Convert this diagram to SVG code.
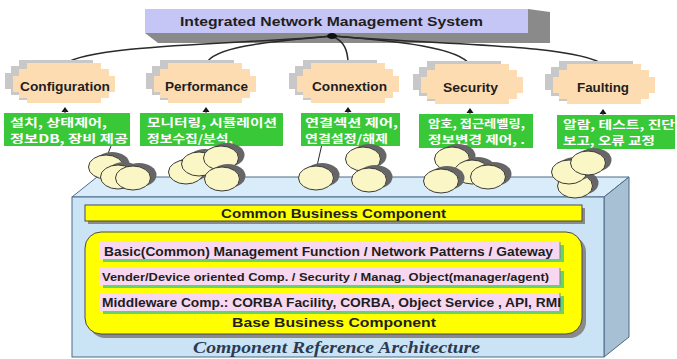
<svg xmlns="http://www.w3.org/2000/svg" width="677" height="359" viewBox="0 0 677 359">
  <defs>
    <style>
      .lbl { font-family: "Liberation Sans", Arial, sans-serif; font-weight: bold; fill: #1e1e1e; }
      .kr { font-family: "Noto Sans CJK KR", "Liberation Sans", sans-serif; font-weight: bold; font-size: 11px; fill: #ffffff; }
      .green { fill: #38c838; }
      .peach { fill: #fddcb2; }
      .ghost { fill: #c8c8c8; }
      .coin { fill: #fbf6c6; stroke: #3a3a3a; stroke-width: 1; }
      .coinshadow { fill: #666666; }
      .wire { fill: none; stroke: #2a2a2a; stroke-width: 1.5; }
      .thin { fill: none; stroke: #2a2a2a; stroke-width: 1; }
      .yellow { fill: #ffff00; stroke: #4a4a4a; stroke-width: 1; }
      .pink { fill: #f8d8f0; }
      .gshadow { fill: #66d466; }
      .gray { fill: #8a8a8a; }
    </style>
    <!-- stepped component outline, centred on 0,0 -->
    <polygon id="step" points="-38,-20 36,-20 36,-14 44,-14 44,-7 50,-7 50,9 44,9 44,15 36,15 36,20 -38,20 -38,15 -46,15 -46,9 -52,9 -52,-7 -46,-7 -46,-14 -38,-14"/>
    <polygon id="uparrow" points="0,-5 -3.5,0 3.5,0" fill="#111"/>
    <g id="coinpair">
      <ellipse class="coinshadow" cx="6" cy="-3" rx="17.5" ry="12"/>
      <ellipse class="coin" cx="0" cy="0" rx="17.5" ry="12"/>
    </g>
  </defs>

  <rect width="677" height="359" fill="#ffffff"/>

  <!-- top system box -->
  <g id="system">
    <polygon class="gray" points="145,33 158,43 550,43 550,12 528,9 528,33"/>
    <rect x="145" y="9" width="383" height="24" fill="#c6c6f6"/>
    <text class="lbl" x="180" y="26" font-size="13" textLength="303" lengthAdjust="spacingAndGlyphs">Integrated Network Management System</text>
  </g>

  <!-- wires from the system hub to the functional areas -->
  <g id="connectors">
    <path class="wire" d="M332,36 C250,44 90,44 65,64"/>
    <path class="wire" d="M332,36 C280,41 214,45 206,64"/>
    <path class="wire" d="M332,36 C344,41 348,50 348,64"/>
    <path class="wire" d="M332,36 C400,41 460,48 470,65"/>
    <path class="wire" d="M332,36 C420,44 580,44 603,65"/>
    <ellipse cx="332" cy="36" rx="5" ry="3" fill="#111"/>
    <!-- short leads from the descriptions down to the component piles -->
    <path class="thin" d="M111,146 L107,156"/>
    <path class="thin" d="M322,144 L317,166"/>
    <use href="#uparrow" x="65" y="112"/>
    <use href="#uparrow" x="206" y="112"/>
    <use href="#uparrow" x="348" y="112"/>
    <use href="#uparrow" x="470" y="113"/>
    <use href="#uparrow" x="603" y="114"/>
    <path class="thin" d="M65,110 V113 M206,110 V113 M348,110 V113 M470,111 V114 M603,112 V115"/>
  </g>

  <!-- functional areas -->
  <g id="configuration">
    <use href="#step" class="ghost" x="57" y="80"/>
    <use href="#step" class="peach" x="65" y="83"/>
    <text class="lbl" x="20" y="91" font-size="13" textLength="90" lengthAdjust="spacingAndGlyphs">Configuration</text>
    <rect class="green" x="4" y="113" width="126" height="33"/>
    <text class="kr"><tspan x="10" y="126.5" textLength="97" lengthAdjust="spacingAndGlyphs">설치, 상태제어,</tspan><tspan x="10" y="142.5" textLength="118" lengthAdjust="spacingAndGlyphs">정보DB, 장비 제공</tspan></text>
  </g>
  <g id="performance">
    <use href="#step" class="ghost" x="198" y="80"/>
    <use href="#step" class="peach" x="206" y="83"/>
    <text class="lbl" x="165" y="91" font-size="13" textLength="83" lengthAdjust="spacingAndGlyphs">Performance</text>
    <rect class="green" x="140" y="113" width="143" height="33"/>
    <text class="kr"><tspan x="147" y="126.5" textLength="130" lengthAdjust="spacingAndGlyphs">모니터링, 시뮬레이션</tspan><tspan x="147" y="142.5" textLength="86" lengthAdjust="spacingAndGlyphs">정보수집/분석,</tspan></text>
  </g>
  <g id="connextion">
    <use href="#step" class="ghost" x="341" y="80"/>
    <use href="#step" class="peach" x="349" y="83"/>
    <text class="lbl" x="312" y="91" font-size="13" textLength="75" lengthAdjust="spacingAndGlyphs">Connextion</text>
    <rect class="green" x="301" y="113" width="99" height="33"/>
    <text class="kr"><tspan x="305" y="126.5" textLength="93" lengthAdjust="spacingAndGlyphs">연결섹션 제어,</tspan><tspan x="305" y="142.5" textLength="83" lengthAdjust="spacingAndGlyphs">연결설정/해제</tspan></text>
  </g>
  <g id="security">
    <use href="#step" class="ghost" x="465" y="81"/>
    <use href="#step" class="peach" x="473" y="84"/>
    <text class="lbl" x="443" y="92" font-size="13" textLength="55" lengthAdjust="spacingAndGlyphs">Security</text>
    <rect class="green" x="419" y="114" width="114" height="34"/>
    <text class="kr"><tspan x="428" y="127.5" textLength="97" lengthAdjust="spacingAndGlyphs">암호, 접근레벨링,</tspan><tspan x="428" y="143.5" textLength="97" lengthAdjust="spacingAndGlyphs">정보변경 제어, .</tspan></text>
  </g>
  <g id="faulting">
    <use href="#step" class="ghost" x="597" y="81"/>
    <use href="#step" class="peach" x="605" y="84"/>
    <text class="lbl" x="577" y="92" font-size="13" textLength="52" lengthAdjust="spacingAndGlyphs">Faulting</text>
    <rect class="green" x="557" y="115" width="118" height="34"/>
    <text class="kr"><tspan x="563" y="128.5" textLength="112" lengthAdjust="spacingAndGlyphs">알람, 테스트, 진단</tspan><tspan x="563" y="144.5" textLength="92" lengthAdjust="spacingAndGlyphs">보고, 오류 교정</tspan></text>
  </g>

  <!-- reference architecture block -->
  <g id="architecture">
    <polygon points="72,197 97,177 629,177 604,197" fill="#d8ecfa" stroke="#4d6a88" stroke-width="1"/>
    <polygon points="604,197 629,177 629,337 604,357" fill="#a7c0d4" stroke="#4d6a88" stroke-width="1"/>
    <rect x="72" y="197" width="532" height="160" fill="#cae4f6" stroke="#4d6a88" stroke-width="1"/>
    <text x="193" y="353" font-family="'Liberation Serif', 'Times New Roman', serif" font-style="italic" font-weight="bold" font-size="17.5" fill="#2c3a52" textLength="287" lengthAdjust="spacingAndGlyphs">Component Reference Architecture</text>
  </g>

  <!-- component piles on top of the block -->
  <g id="piles">
    <use href="#coinpair" x="106" y="167"/>
    <use href="#coinpair" x="118" y="177"/>
    <use href="#coinpair" x="133" y="178"/>

    <use href="#coinpair" x="186" y="172"/>
    <use href="#coinpair" x="199" y="164"/>
    <use href="#coinpair" x="221" y="158"/>
    <use href="#coinpair" x="222" y="179"/>

    <use href="#coinpair" x="316" y="178"/>
    <use href="#coinpair" x="363" y="159"/>
    <use href="#coinpair" x="369" y="180"/>

    <use href="#coinpair" x="452" y="159"/>
    <use href="#coinpair" x="472" y="172"/>
    <use href="#coinpair" x="441" y="181"/>
    <use href="#coinpair" x="488" y="177"/>

    <use href="#coinpair" x="575" y="186"/>
    <use href="#coinpair" x="569" y="172"/>
    <use href="#coinpair" x="588" y="163"/>
  </g>

  <g id="common-business">
    <rect class="gray" x="88" y="208" width="497" height="16"/>
    <rect class="yellow" x="85" y="205" width="497" height="16"/>
    <text class="lbl" x="221" y="218" font-size="13" textLength="225" lengthAdjust="spacingAndGlyphs">Common Business Component</text>
  </g>

  <g id="base-business">
    <rect class="gray" x="89" y="236" width="497" height="102" rx="16"/>
    <rect class="yellow" x="85" y="232" width="497" height="102" rx="16"/>
    <text class="lbl" x="232" y="327" font-size="13.5" textLength="204" lengthAdjust="spacingAndGlyphs">Base Business Component</text>
  </g>

  <g id="basic-management">
    <rect class="gshadow" x="103" y="245" width="461" height="17"/>
    <rect class="pink" x="99" y="242" width="461" height="17"/>
    <line x1="560" y1="242" x2="560" y2="259" stroke="#8a7a8a"/>
    <text class="lbl" x="104" y="255.5" font-size="12.5" textLength="449" lengthAdjust="spacingAndGlyphs">Basic(Common) Management Function / Network Patterns / Gateway</text>
  </g>
  <g id="vendor-device">
    <rect class="gshadow" x="103" y="271" width="461" height="17"/>
    <rect class="pink" x="99" y="268" width="461" height="17"/>
    <line x1="560" y1="268" x2="560" y2="285" stroke="#8a7a8a"/>
    <text class="lbl" x="102" y="281" font-size="11" textLength="447" lengthAdjust="spacingAndGlyphs">Vender/Device oriented Comp. / Security / Manag. Object(manager/agent)</text>
  </g>
  <g id="middleware">
    <rect class="gshadow" x="103" y="296" width="461" height="18"/>
    <rect class="pink" x="99" y="293" width="461" height="18"/>
    <line x1="560" y1="293" x2="560" y2="311" stroke="#8a7a8a"/>
    <text class="lbl" x="102" y="307" font-size="12.5" textLength="459" lengthAdjust="spacingAndGlyphs">Middleware Comp.: CORBA Facility, CORBA, Object Service , API, RMI</text>
  </g>
</svg>
